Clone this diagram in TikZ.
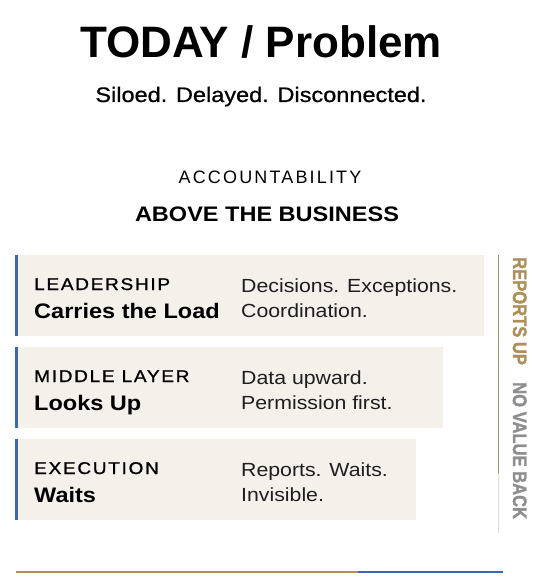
\documentclass[tikz,border=0pt]{standalone}
\usepackage{fontspec}
\setmainfont{Liberation Sans}
\newfontfamily\wide{Liberation Sans}[FakeStretch=1.12]
\newfontfamily\narrowbold{Liberation Sans Bold}[FakeStretch=0.85, FakeBold=1.5]
\definecolor{boxfill}{HTML}{F4F0EA}
\definecolor{barblue}{HTML}{3C66AE}
\definecolor{gold}{HTML}{AD8F5A}
\definecolor{greytxt}{HTML}{8E8E8E}
\definecolor{fadeline}{HTML}{E4DDD2}
\definecolor{ink}{HTML}{1E1E1E}
\newcommand{\fsz}[1]{\fontsize{#1bp}{#1bp}\selectfont}
\tikzset{
  box/.style={fill=boxfill, draw=none, anchor=north west, minimum height=81bp, inner sep=0},
  leftbar/.style={draw=barblue, line width=2.6bp},
  txt/.style={inner sep=0, anchor=base west, text=black},
  lbl/.style={txt, font=\wide\fsz{17}\addfontfeatures{LetterSpace=10,FakeBold=1}},
  strong/.style={txt, font=\wide\fsz{21}\bfseries},
  desc/.style={txt, font=\wide\fsz{19}, text=ink},
  vtxt/.style={inner sep=0, rotate=-90, anchor=base west, font=\narrowbold\fsz{19.5}},
}
\begin{document}
\begin{tikzpicture}[x=1bp,y=-1bp]
\useasboundingbox (0,0) rectangle (542,581);
\fill[white] (0,0) rectangle (542,581);
% titles
\node[inner sep=0, anchor=base, font=\fsz{44}\bfseries] (title) at (261,58) {TODAY / Problem};
\node[inner sep=0, anchor=base, font=\wide\fsz{21}\addfontfeatures{FakeBold=0.8}] (sub) at (261,102) {Siloed. Delayed. Disconnected.};
\node[inner sep=0, anchor=base, font=\fsz{18}\addfontfeatures{LetterSpace=12}] (acc) at (270,183) {ACCOUNTABILITY};
\node[inner sep=0, anchor=base, font=\wide\fsz{21}\bfseries] (above) at (267,221) {ABOVE THE BUSINESS};
% boxes
\node[box, minimum width=469bp] (b1) at (15,255) {};
\node[box, minimum width=428bp] (b2) at (15,347) {};
\node[box, minimum width=401bp] (b3) at (15,439) {};
\foreach \b in {b1,b2,b3}{\draw[leftbar] ([xshift=1.3bp]\b.north west) -- ([xshift=1.3bp]\b.south west);}
% box texts
\node[lbl] (l1) at (34,290) {LEADERSHIP};
\node[strong] (s1) at (34,318) {Carries the Load};
\node[desc] (d1a) at (241,292) {Decisions. Exceptions.};
\node[desc] (d1b) at (241,317) {Coordination.};
\node[lbl] (l2) at (34,382) {MIDDLE LAYER};
\node[strong] (s2) at (34,410) {Looks Up};
\node[desc] (d2a) at (241,384) {Data upward.};
\node[desc] (d2b) at (241,409) {Permission first.};
\node[lbl] (l3) at (34,474) {EXECUTION};
\node[strong] (s3) at (34,502) {Waits};
\node[desc] (d3a) at (241,476) {Reports. Waits.};
\node[desc] (d3b) at (241,501) {Invisible.};
% side line and labels
\coordinate (vt) at (498.5,255);
\coordinate (vm) at (498.5,473);
\coordinate (vb) at (498.5,533);
\draw[gold, line width=1.6bp] (vt) -- (vm);
\draw[fadeline, line width=1.6bp] (vm) -- (vb);
\node[vtxt, text=gold] (rep) at (513,257) {REPORTS UP};
\node[vtxt, text=greytxt] (nov) at (513,382) {NO VALUE BACK};
% bottom rule
\coordinate (r0) at (16,572);
\coordinate (r1) at (358,572);
\coordinate (r2) at (503,572);
\draw[gold, line width=2.2bp] (r0) -- (r1);
\draw[barblue, line width=2.2bp] (r1) -- (r2);
\end{tikzpicture}
\end{document}
